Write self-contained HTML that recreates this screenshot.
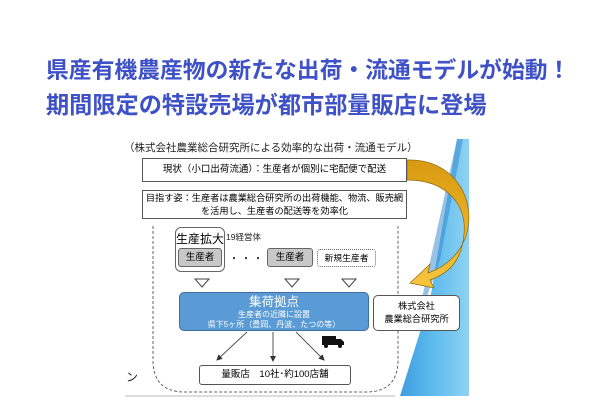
<!DOCTYPE html>
<html><head><meta charset="utf-8"><style>
body{margin:0;background:#fff;}
.w{position:relative;width:600px;height:400px;overflow:hidden;font-family:"Liberation Sans","Noto Sans CJK JP",sans-serif;}
.t{position:absolute;left:46px;color:#3f51c6;font-weight:bold;white-space:nowrap;line-height:30px;}
.a{position:absolute;white-space:nowrap;color:#222;}
.b{position:absolute;box-sizing:border-box;text-align:center;white-space:nowrap;}
</style></head><body><div class="w">
<div class="t" style="top:55px;font-size:22.8px;">県産有機農産物の新たな出荷・流通モデルが始動！</div>
<div class="t" style="top:90px;font-size:23.2px;">期間限定の特設売場が都市部量販店に登場</div>
<svg width="600" height="400" style="position:absolute;left:0;top:0">
<defs><linearGradient id="bl" x1="0" y1="0" x2="1" y2="0"><stop offset="0" stop-color="#3d9ee0"/><stop offset="0.5" stop-color="#5fbcee"/><stop offset="1" stop-color="#8fd2f3"/></linearGradient>
<linearGradient id="yl" x1="0" y1="0" x2="0" y2="1"><stop offset="0" stop-color="#d99a10"/><stop offset="1" stop-color="#f7c53c"/></linearGradient>
<marker id="ar" markerWidth="6" markerHeight="6" refX="5" refY="3" orient="auto"><path d="M0,0 L6,3 L0,6z" fill="#333"/></marker></defs>
<polygon points="457,139 469,139 469,396 400,396 430,300" fill="url(#bl)"/>
<polygon points="457,139 463,139 440,260 415,330" fill="#2f86cc" opacity="0.5"/>
<path d="M153,226 L153,360 Q153,392 185,392 L366,392 Q398,392 398,360 L398,226" fill="none" stroke="#666" stroke-dasharray="3,2"/>
<line x1="125" y1="396" x2="395" y2="396" stroke="#bbb"/>
<path d="M407,160 C452,158 478,198 466,236 C458,258 442,268 428,273 L430,264 L410,283 L434,288 L430,280 C452,272 462,258 464,234 C467,205 447,180 407,180 Z" fill="url(#yl)" stroke="#8a6a10" stroke-width="0.7"/>
<g fill="#fff" stroke="#444"><path d="M195,279 L209,279 L202,287z"/><path d="M285,279 L299,279 L292,287z"/><path d="M342,279 L356,279 L349,287z"/></g>
<g stroke="#555" marker-end="url(#ar)"><line x1="247" y1="332" x2="217" y2="360"/><line x1="273" y1="332" x2="273" y2="361"/><line x1="296" y1="332" x2="324" y2="360"/></g>
<g fill="#111"><rect x="322" y="336" width="14" height="9"/><path d="M336,339 L341,339 L344,342 L344,345 L336,345z"/><circle cx="326" cy="346" r="2"/><circle cx="340" cy="346" r="2"/></g>
</svg>
<div class="a" style="left:124px;top:140px;font-size:10.5px;">（株式会社農業総合研究所による効率的な出荷・流通モデル）</div>
<div class="b" style="left:142px;top:158px;width:265px;height:24px;border:1px solid #555;background:#fff;font-size:9.5px;line-height:22px;">現状（小口出荷流通）：生産者が個別に宅配便で配送</div>
<div class="b" style="left:142px;top:190px;width:265px;height:29px;border:1px solid #555;background:#fff;font-size:9.2px;line-height:12.5px;padding-top:1px;">目指す姿：生産者は農業総合研究所の出荷機能、物流、販売網<br>を活用し、生産者の配送等を効率化</div>
<div class="b" style="left:175px;top:227px;width:50px;height:45px;border:1px solid #666;border-radius:6px;background:#fff;font-size:12px;line-height:22px;">生産拡大</div>
<div class="b" style="left:178px;top:248px;width:44px;height:19px;border:1px solid #666;border-radius:3px;background:#c8c8c8;font-size:9.5px;line-height:17px;">生産者</div>
<div class="a" style="left:226px;top:231px;font-size:8.5px;">19経営体</div>
<div class="a" style="left:229px;top:250px;font-size:10px;letter-spacing:2px;">・・・</div>
<div class="b" style="left:267px;top:248px;width:46px;height:19px;border:1px solid #666;border-radius:3px;background:#c8c8c8;font-size:9.5px;line-height:17px;">生産者</div>
<div class="b" style="left:317px;top:249px;width:59px;height:18px;border:1px dotted #666;border-radius:3px;background:#fff;font-size:8.8px;line-height:16px;">新規生産者</div>
<div class="b" style="left:179px;top:292px;width:190px;height:39px;border:1px solid #3f6e9f;border-radius:5px;background:#5b9bd5;color:#fff;"><div style="font-size:12.5px;line-height:15px;margin-top:2px;">集荷拠点</div><div style="font-size:8px;line-height:10px;">生産者の近隣に設置<br>県下5ヶ所（豊岡、丹波、たつの等）</div></div>
<div class="b" style="left:373px;top:295px;width:87px;height:36px;border:1px solid #555;border-radius:5px;background:#fff;font-size:9.2px;line-height:13px;padding-top:4px;">株式会社<br>農業総合研究所</div>
<div class="b" style="left:199px;top:365px;width:152px;height:20px;border:1px solid #555;border-radius:3px;background:#fff;font-size:9.5px;line-height:18px;">量販店　10社･約100店舗</div>
<div class="a" style="left:126px;top:368px;font-size:12px;">ン</div>
</div></body></html>
